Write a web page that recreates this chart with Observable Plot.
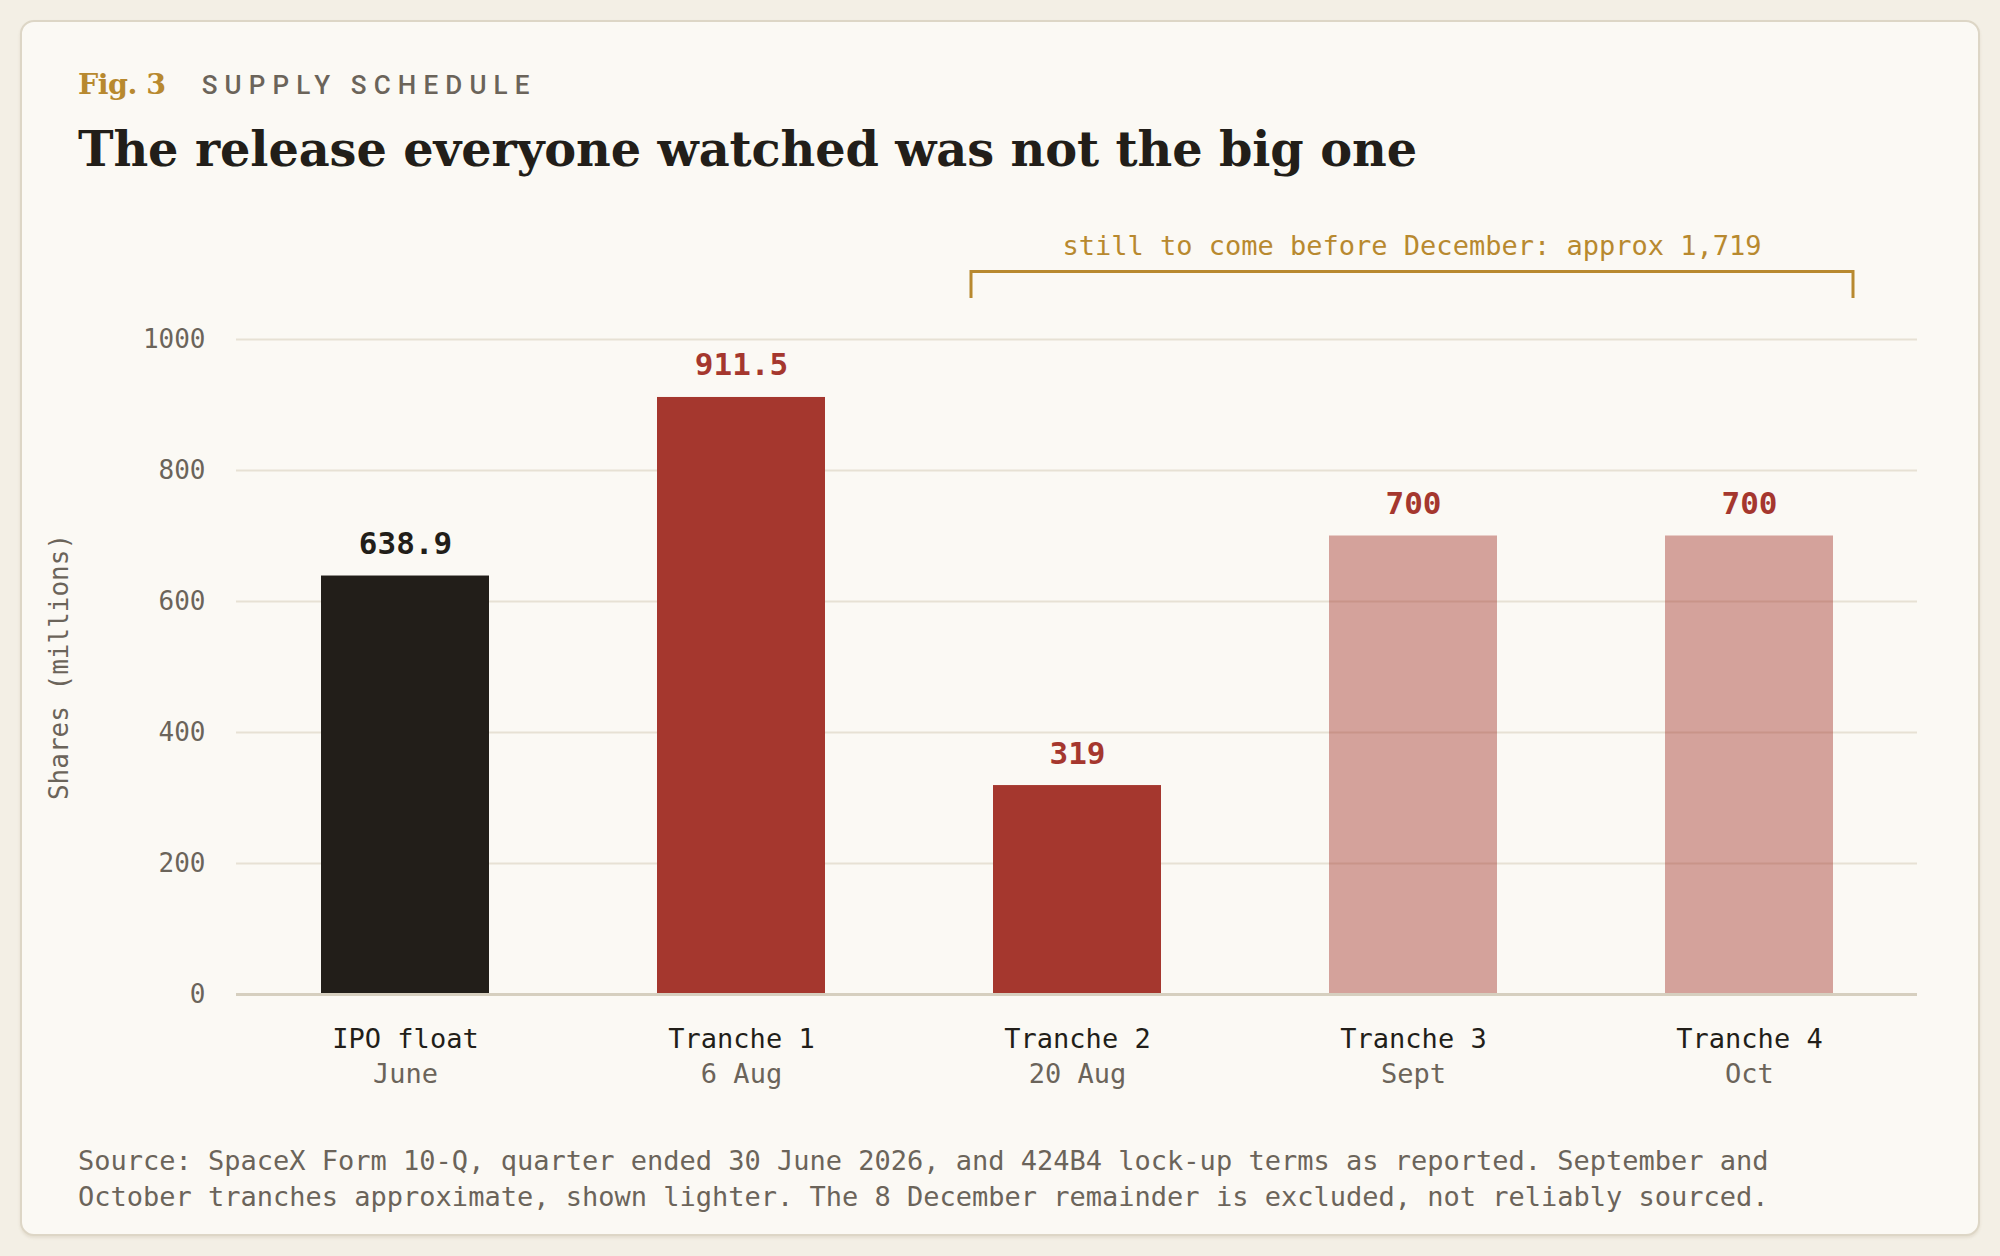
<!DOCTYPE html>
<html><head><meta charset="utf-8">
<script src="https://cdn.jsdelivr.net/npm/d3@7"></script>
<script src="https://cdn.jsdelivr.net/npm/@observablehq/plot@0.6"></script>
<style>
html,body{margin:0;padding:0;background:#f3efe5;}
body{width:2000px;height:1256px;position:relative;overflow:hidden;}
#card{position:absolute;left:20px;top:20px;width:1960px;height:1216px;box-sizing:border-box;border:2px solid #ddd6c6;border-radius:14px;background:#fbf9f4;box-shadow:0 2px 3px rgba(120,100,60,0.12);}
.kicker{position:absolute;left:56px;top:48px;line-height:1;white-space:nowrap;display:flex;align-items:baseline;}
.fig{font-family:"DejaVu Serif";font-weight:700;font-size:28.5px;color:#b8892f;letter-spacing:-0.5px;}
.sec{font-family:Roboto;font-size:26px;font-weight:500;letter-spacing:0.275em;color:#6b645a;margin-left:36px;}
h1{position:absolute;left:56px;top:104px;margin:0;font-family:"DejaVu Serif";font-weight:700;font-size:47.8px;line-height:1;color:#221e19;white-space:nowrap;letter-spacing:-0.1px;}
#chart{position:absolute;left:0;top:178px;}
.source{position:absolute;left:56px;top:1121px;font-family:"DejaVu Sans Mono";font-size:27px;line-height:36px;color:#6b645a;white-space:nowrap;}
</style></head>
<body>
<div id="card">
  <div class="kicker"><span class="fig" id="fig"></span><span class="sec" id="sec"></span></div>
  <h1 id="title"></h1>
  <div id="chart"></div>
  <div class="source" id="source"></div>
</div>
<script>
const figLabel = "Fig. 3";
const sectionLabel = "SUPPLY SCHEDULE";
const titleText = "The release everyone watched was not the big one";
const sourceLines = [
  "Source: SpaceX Form 10-Q, quarter ended 30 June 2026, and 424B4 lock-up terms as reported. September and",
  "October tranches approximate, shown lighter. The 8 December remainder is excluded, not reliably sourced."
];
const categories = ["IPO float", "Tranche 1", "Tranche 2", "Tranche 3", "Tranche 4"];
const dates = ["June", "6 Aug", "20 Aug", "Sept", "Oct"];
const shares = [638.9, 911.5, 319, 700, 700];
const valueLabels = ["638.9", "911.5", "319", "700", "700"];
const kinds = ["float", "confirmed", "confirmed", "approx", "approx"];
const yTicks = [0, 200, 400, 600, 800, 1000];
const yLabel = "Shares (millions)";
const bracketFrom = "Tranche 2";
const bracketTo = "Tranche 4";
const bracketText = "still to come before December: approx 1,719";

const DARK = "#221e19", RED = "#a5372e", GOLD = "#b8892f", GRAY = "#6b645a", GRID = "#e7e1d4", BASE = "#d6cfbf";

document.getElementById("fig").textContent = figLabel;
document.getElementById("sec").textContent = sectionLabel;
document.getElementById("title").textContent = titleText;
document.getElementById("source").innerHTML = sourceLines.map(s => s.replace(/&/g,"&amp;")).join("<br>");

const data = categories.map((c, i) => ({category: c, date: dates[i], shares: shares[i], label: valueLabels[i], kind: kinds[i]}));
const solid = d => d.kind !== "approx";

const chart = Plot.plot({
  width: 1956, height: 900,
  marginLeft: 214, marginRight: 61, marginTop: 139, marginBottom: 106,
  style: {background: "transparent", fontFamily: "DejaVu Sans Mono", fontSize: "27px", overflow: "visible"},
  x: {domain: categories, paddingInner: 0.5, paddingOuter: 0.25, axis: null},
  y: {domain: [0, 1000], axis: null},
  color: {type: "identity"},
  marks: [
    Plot.ruleY(yTicks.filter(t => t > 0), {stroke: GRID, strokeWidth: 2}),
    Plot.axisY(yTicks, {tickSize: 0, tickPadding: 31, fontSize: 26, fill: GRAY, label: null, tickFormat: d => String(d)}),
    Plot.barY(data, {filter: solid, x: "category", y: "shares", fill: d => d.kind === "float" ? DARK : RED}),
    Plot.barY(data, {filter: d => !solid(d), x: "category", y: "shares", fill: RED, fillOpacity: 0.45}),
    Plot.ruleY([0], {stroke: BASE, strokeWidth: 3}),
    Plot.text(data, {x: "category", y: "shares", text: "label", dy: -22, lineAnchor: "bottom", fontWeight: 700, fontSize: 31, fill: d => d.kind === "float" ? DARK : RED}),
    Plot.text(data, {x: "category", text: "category", frameAnchor: "bottom", dy: 53, lineAnchor: "bottom", fill: DARK, fontSize: 27}),
    Plot.text(data, {x: "category", text: "date", frameAnchor: "bottom", dy: 88, lineAnchor: "bottom", fill: GRAY, fontSize: 27}),
    Plot.text([yLabel], {frameAnchor: "left", text: d => d, rotate: -90, dx: -177, textAnchor: "middle", lineAnchor: "middle", fill: GRAY, fontSize: 26})
  ]
});

const xs = chart.scale("x");
const x0 = xs.apply(bracketFrom) - 22;
const x1 = xs.apply(bracketTo) + xs.bandwidth + 20;
const svg = d3.select(chart);
svg.append("path")
  .attr("d", `M${x0},98V71.5H${x1}V98`)
  .attr("fill", "none").attr("stroke", GOLD).attr("stroke-width", 3);
svg.append("text")
  .attr("x", (x0 + x1) / 2).attr("y", 55)
  .attr("text-anchor", "middle")
  .attr("font-family", "DejaVu Sans Mono").attr("font-size", 27)
  .attr("fill", GOLD)
  .text(bracketText);

document.getElementById("chart").appendChild(chart);
</script>
</body></html>
